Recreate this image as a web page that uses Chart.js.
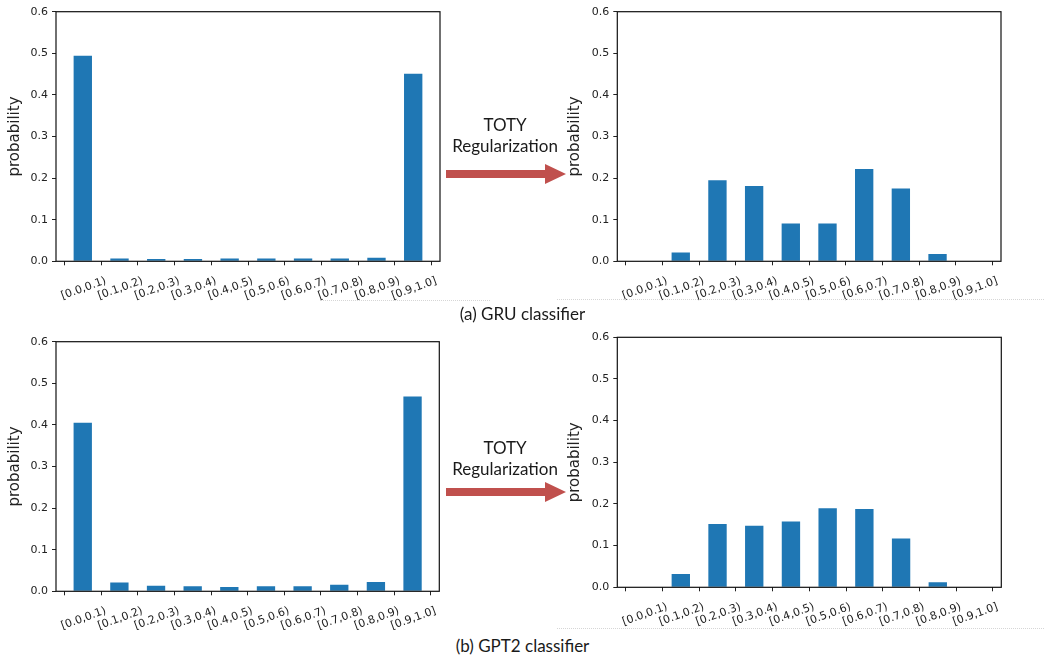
<!DOCTYPE html>
<html>
<head>
<meta charset="utf-8">
<script src="https://cdn.jsdelivr.net/npm/chart.js@4.4.0/dist/chart.umd.min.js"></script>
<style>
    body { margin: 0; background: #fff; width: 1044px; height: 656px; position: relative; overflow: hidden; }
    .box { position: absolute; width: 450px; height: 310px; }
    .box.right { width: 484px; }
    .note { position: absolute; font-family: Lato, "Open Sans", sans-serif; font-size: 17px; color: #1a1a1a; text-align: center; line-height: 21px; }
    .dots { position: absolute; height: 0; border-top: 1px dotted #d6d6d6; }
    svg { position: absolute; }
</style>
</head>
<body>
<div class="box" style="left:0;top:0"><canvas id="chart1"></canvas></div>
<div class="box right" style="left:560px;top:0"><canvas id="chart2"></canvas></div>
<div class="box" style="left:0;top:320px"><canvas id="chart3"></canvas></div>
<div class="box right" style="left:560px;top:320px"><canvas id="chart4"></canvas></div>

<div class="note" style="left:445px;top:114px;width:120px">TOTY<br>Regularization</div>
<svg style="left:446px;top:162px" width="122" height="24"><polygon points="0,8 99,8 99,2 120,12 99,22 99,16 0,16" fill="#c0504d"/></svg>
<div class="note" style="left:445px;top:437px;width:120px">TOTY<br>Regularization</div>
<svg style="left:446px;top:480px" width="122" height="24"><polygon points="0,8 99,8 99,2 120,12 99,22 99,16 0,16" fill="#c0504d"/></svg>

<div class="dots" style="left:320px;top:300px;width:170px"></div>
<div class="dots" style="left:557px;top:299px;width:487px"></div>
<div class="dots" style="left:557px;top:628px;width:487px"></div>

<div class="note" style="left:400px;top:303px;width:245px">(a) GRU classifier</div>
<div class="note" style="left:400px;top:635px;width:245px">(b) GPT2 classifier</div>

<script>
// bins and probabilities
const binLabels = ['[0.0,0.1)', '[0.1,0.2)', '[0.2,0.3)', '[0.3,0.4)', '[0.4,0.5)',
                   '[0.5,0.6)', '[0.6,0.7)', '[0.7,0.8)', '[0.8,0.9)', '[0.9,1.0]'];
const gruBefore  = [0.494, 0.007, 0.0055, 0.0055, 0.007, 0.007, 0.007, 0.007, 0.0085, 0.451];
const gruAfter   = [0.0, 0.021, 0.195, 0.181, 0.091, 0.091, 0.222, 0.175, 0.0175, 0.0];
const gpt2Before = [0.405, 0.021, 0.0135, 0.012, 0.0105, 0.012, 0.012, 0.0155, 0.0225, 0.468];
const gpt2After  = [0.0, 0.032, 0.152, 0.148, 0.158, 0.190, 0.188, 0.117, 0.012, 0.0];
const yTicks = [0.0, 0.1, 0.2, 0.3, 0.4, 0.5, 0.6];

Chart.defaults.font.family = '"DejaVu Sans", sans-serif';
Chart.defaults.color = '#222';

// matplotlib style frame round the plot area
const frame = {
    id: 'frame',
    afterDraw(chart) {
        const a = chart.chartArea, ctx = chart.ctx;
        ctx.save();
        ctx.strokeStyle = '#111';
        ctx.lineWidth = 1.2;
        ctx.strokeRect(a.left, a.top, a.right - a.left, a.bottom - a.top);
        ctx.restore();
    }
};

function makeChart(id, values, area, h) {
    const ctx = document.getElementById(id).getContext('2d');
    return new Chart(ctx, {
        type: 'bar',
        data: {
            datasets: [{
                data: values.map((v, i) => ({ x: i, y: v })),
                backgroundColor: '#1f77b4',
                barPercentage: 0.5,
                categoryPercentage: 1.0
            }]
        },
        options: {
            responsive: true,
            maintainAspectRatio: false,
            animation: false,
            layout: { padding: { top: area.top, right: area.right, left: 0, bottom: 0 } },
            plugins: { legend: { display: false }, tooltip: { enabled: false } },
            scales: {
                x: {
                    type: 'linear',
                    offset: false,
                    min: -0.73,
                    max: 9.73,
                    afterFit: s => { s.height = h - area.bottom; },
                    afterBuildTicks: s => { s.ticks = binLabels.map((_, i) => ({ value: i })); },
                    grid: { drawOnChartArea: false, drawTicks: true, tickLength: 4, color: '#222' },
                    border: { display: false },
                    ticks: {
                        callback: v => binLabels[v],
                        font: { size: 11 },
                        minRotation: 20,
                        maxRotation: 20,
                        labelOffset: 23,
                        padding: 9,
                        autoSkip: false
                    }
                },
                y: {
                    min: 0,
                    max: 0.6,
                    afterFit: s => { s.width = area.left; },
                    afterBuildTicks: s => { s.ticks = yTicks.map(v => ({ value: v })); },
                    grid: { drawOnChartArea: false, drawTicks: true, tickLength: 4, color: '#222' },
                    border: { display: false },
                    title: { display: true, text: 'probability', font: { size: 15 }, padding: { top: 6, bottom: 0 } },
                    ticks: {
                        callback: v => v.toFixed(1),
                        font: { size: 11 },
                        padding: 4
                    }
                }
            }
        },
        plugins: [frame]
    });
}

// chart area edges inside each 310px high canvas
makeChart('chart1', gruBefore,  { left: 56,   top: 11.7, right: 10,   bottom: 261.3 }, 310);
makeChart('chart2', gruAfter,   { left: 57.3, top: 11.7, right: 43,   bottom: 261.3 }, 310);
makeChart('chart3', gpt2Before, { left: 56,   top: 21.7, right: 10.7, bottom: 271.3 }, 310);
makeChart('chart4', gpt2After,  { left: 57.3, top: 17.3, right: 42.7, bottom: 267.3 }, 310);
</script>
</body>
</html>
